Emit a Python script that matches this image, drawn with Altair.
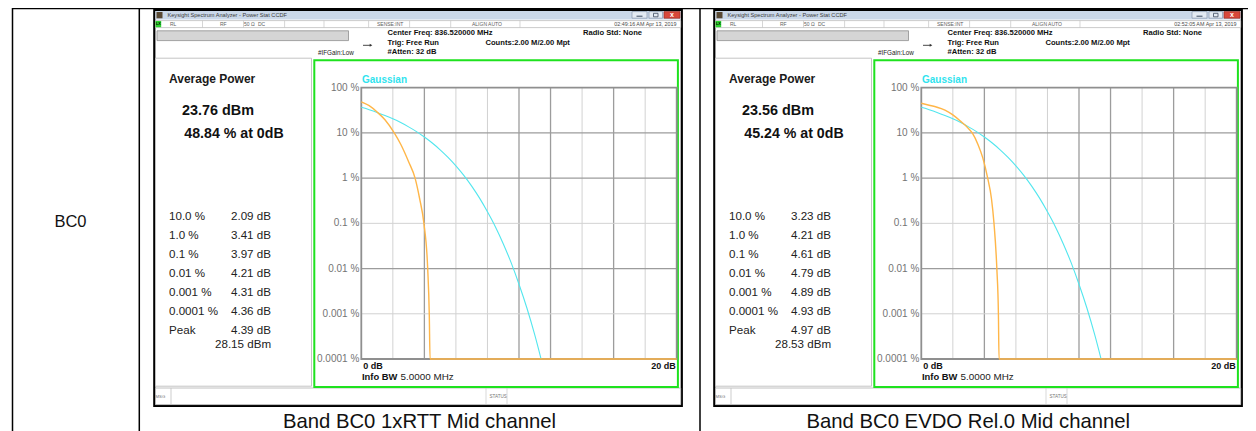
import altair as alt
import pandas as pd

# ---------------- data ----------------
row_label = "BC0"
captions = ["Band BC0 1xRTT Mid channel", "Band BC0 EVDO Rel.0 Mid channel"]
timestamps = ["02:49:16 AM Apr 13, 2019", "02:52:05 AM Apr 13, 2019"]
avg_power = ["23.76 dBm", "23.56 dBm"]
pct_at_0db = ["48.84 % at 0dB", "45.24 % at 0dB"]
stat_levels = ["10.0 %", "1.0 %", "0.1 %", "0.01 %", "0.001 %", "0.0001 %", "Peak"]
stat_values_rtt = ["2.09 dB", "3.41 dB", "3.97 dB", "4.21 dB", "4.31 dB", "4.36 dB", "4.39 dB"]
stat_values_evdo = ["3.23 dB", "4.21 dB", "4.61 dB", "4.79 dB", "4.89 dB", "4.93 dB", "4.97 dB"]
peak_dbm = ["28.15 dBm", "28.53 dBm"]
window_title = "Keysight Spectrum Analyzer - Power Stat CCDF"
header_lines = ["Center Freq: 836.520000 MHz", "Trig: Free Run", "#Atten: 32 dB"]
counts_text = "Counts:2.00 M/2.00 Mpt"
radio_std = "Radio Std: None"
ifgain = "#IFGain:Low"
status_items = ["RL", "RF", "50 \u03a9", "DC", "SENSE:INT", "ALIGN AUTO"]

grid_db = [2, 4, 6, 8, 10, 12, 14, 16, 18]
grid_db_strong = [4, 10, 12, 16]
y_tick_pct = [100, 10, 1, 0.1, 0.01, 0.001, 0.0001]
y_tick_labels = ["100 %", "10 %", "1 %", "0.1 %", "0.01 %", "0.001 %", "0.0001 %"]
grid_pct_strong = [10, 1, 0.01]

gauss_db = [0, 0.5, 1, 1.5, 2, 2.5, 3, 3.5, 4, 4.5, 5, 5.5, 6, 6.5, 7, 7.5, 8, 8.5, 9, 9.5, 10, 10.5, 11, 11.4]
gauss_pct = [36.8, 32.6, 28.4, 24.3, 20.5, 16.9, 13.6, 10.7, 8.1, 5.97, 4.23, 2.88, 1.87, 1.15,
             0.666, 0.361, 0.18, 0.0842, 0.0355, 0.0135, 0.0045, 0.00134, 0.00034, 0.0001]

rtt_db = [0, 0.5, 1.0, 1.5, 2.09, 2.5, 3.0, 3.41, 3.7, 3.97, 4.21, 4.31, 4.36, 4.39, 20]
rtt_pct = [48.84, 40, 29, 19.5, 10, 5.6, 2.3, 1.0, 0.35, 0.1, 0.01, 0.001, 0.0001, 0.0001, 0.0001]

evdo_db = [0, 0.5, 1.0, 1.5, 2.0, 2.5, 2.9, 3.23, 3.6, 3.9, 4.21, 4.45, 4.61, 4.79, 4.89, 4.93, 4.97, 20]
evdo_pct = [45.24, 41, 37, 32, 25, 18, 13.5, 10, 5.5, 2.8, 1.0, 0.35, 0.1, 0.01, 0.001, 0.0001, 0.0001, 0.0001]

# ---------------- layout helpers ----------------
FONT = "Liberation Sans"
ONE = pd.DataFrame({"k": [0]})
W, H = 1240, 423


def X(v):
    return v - 8


def Y(v):
    return v - 8


layers = []


def rect(x1, y1, x2, y2, fill="white", stroke=None, sw=1.0):
    kw = {}
    if fill is None:
        kw["fillOpacity"] = 0
        kw["fill"] = "white"
    else:
        kw["fill"] = fill
    if stroke is not None:
        kw["stroke"] = stroke
        kw["strokeWidth"] = sw
    layers.append(alt.Chart(ONE).mark_rect(**kw).encode(
        x=alt.value(X(x1)), x2=alt.value(X(x2)), y=alt.value(Y(y1)), y2=alt.value(Y(y2))))


def hline(x1, x2, y, color="black", sw=1.0):
    layers.append(alt.Chart(ONE).mark_rule(color=color, strokeWidth=sw).encode(
        x=alt.value(X(x1)), x2=alt.value(X(x2)), y=alt.value(Y(y))))


def vline(x, y1, y2, color="black", sw=1.0):
    layers.append(alt.Chart(ONE).mark_rule(color=color, strokeWidth=sw).encode(
        x=alt.value(X(x)), y=alt.value(Y(y1)), y2=alt.value(Y(y2))))


def text(s, x, y, size, weight="normal", color="#000000", align="left"):
    layers.append(alt.Chart(ONE).mark_text(
        text=s, font=FONT, fontSize=size, fontWeight=weight, color=color,
        align=align, baseline="middle").encode(x=alt.value(X(x)), y=alt.value(Y(y))))


# ---------------- table ----------------
hline(12, 1256, 8.6, "black", 1.5)
for vx in (12.5, 139.3, 700):
    vline(vx, 8, 431, "black", 1.5)
text(row_label, 70.5, 222, 16.5, color="#111111", align="center")

# ---------------- panels ----------------
panels = [
    (0, rtt_db, rtt_pct, stat_values_rtt),
    (560, evdo_db, evdo_pct, stat_values_evdo),
]

for i, (dx, c_db, c_pct, svals) in enumerate(panels):
    # window
    rect(154.3 + dx, 9.8, 681.8 + dx, 405.8, "white", "black", 2.2)
    rect(155.5 + dx, 10.9, 680.7 + dx, 19.6, "#cad8e9")
    rect(156.5 + dx, 12, 162.5 + dx, 18.3, "#5a4a34")
    text(window_title, 167.5 + dx, 15.2, 5.6, color="#3a3a3a")
    rect(632 + dx, 11.6, 647 + dx, 18.2, "#e3eaf3", "#8797ad", 0.7)
    hline(636.5 + dx, 642.5 + dx, 16.2, "#3c4a60", 1.0)
    rect(649 + dx, 11.6, 662.5 + dx, 18.2, "#e3eaf3", "#8797ad", 0.7)
    rect(653.5 + dx, 13.3, 658 + dx, 16.8, None, "#3c4a60", 0.8)
    rect(664 + dx, 11.6, 680 + dx, 18.2, "#d8473a", "#9e2d22", 0.7)
    text("x", 672 + dx, 14.6, 7, "bold", "#ffffff", "center")

    # status row
    rect(155.5 + dx, 20.6, 680.7 + dx, 27.6, "white", "#b4b4b4", 0.7)
    for sx_ in (202.5, 243.5, 284.6, 324, 368.6, 409.6, 450.7, 520):
        vline(sx_ + dx, 20.6, 27.6, "#c4c4c4", 0.7)
    rect(155.5 + dx, 21, 161.2 + dx, 27.2, "#2fd42f")
    text("LX", 158.3 + dx, 24.2, 3.8, "bold", "#000000", "center")
    for s, sx_ in zip(status_items, (170, 220, 244, 258, 377, 472)):
        text(s, sx_ + dx, 24.2, 5.0, color="#5e5e5e")
    text(timestamps[i], 676.5 + dx, 24.2, 5.4, color="#4a4a4a", align="right")

    # header area
    rect(157 + dx, 30.8, 348.5 + dx, 40.6, "#d5d5d5", "#8e8e8e", 0.8)
    for k, s in enumerate(header_lines):
        text(s, 387.5 + dx, 33.4 + 9.2 * k, 7.6, "bold", "#111111")
    text(counts_text, 485.5 + dx, 42.6, 7.6, "bold", "#111111")
    text(radio_std, 583 + dx, 33.4, 7.6, "bold", "#111111")
    text(ifgain, 318 + dx, 53, 6.3, color="#222222")
    hline(363 + dx, 370 + dx, 45.3, "#333333", 0.9)
    layers.append(alt.Chart(ONE).mark_point(shape="triangle-right", filled=True, color="#333333",
                                            size=9, opacity=1).encode(
        x=alt.value(X(371 + dx)), y=alt.value(Y(45.3))))

    # left info panel
    rect(155.5 + dx, 58.2, 311.5 + dx, 386.2, "white", "#bdbdbd", 0.9)
    text("Average Power", 169 + dx, 79, 12, "bold", "#1a1a1a")
    text(avg_power[i], 182 + dx, 110.7, 14.4, "bold", "#111111")
    text(pct_at_0db[i], 184.3 + dx, 134, 14.2, "bold", "#111111")
    for k, (lv, vv) in enumerate(zip(stat_levels, svals)):
        yy = 217.3 + 18.9 * k
        text(lv, 169 + dx, yy, 11.6, color="#222222")
        text(vv, 231 + dx, yy, 11.6, color="#222222")
    text(peak_dbm[i], 215 + dx, 345.2, 11.6, color="#222222")

    # bottom status bar
    rect(155.5 + dx, 388, 680.7 + dx, 404.6, "white", "#b0b0b0", 0.8)
    text("MSG", 155.5 + dx, 396.5, 4.3, color="#777777")
    vline(171 + dx, 388, 404.6, "#c0c0c0", 0.8)
    text("STATUS", 489.5 + dx, 396.5, 4.6, color="#777777")
    vline(486 + dx, 388, 404.6, "#c8c8c8", 0.7)
    vline(507 + dx, 388, 404.6, "#c8c8c8", 0.7)

    # green plot box
    rect(314.3 + dx, 60.2, 677.9 + dx, 386.9, None, "#1ee21e", 2.0)

    # CCDF plot via scales
    x0, x1 = 361.3 + dx, 676.7 + dx
    y_top, y_bot = 87.7, 359.0
    sx = alt.Scale(domain=[0, 20], range=[X(x0), X(x1)], nice=False, zero=False)
    sy = alt.Scale(type="log", domain=[0.0001, 100], range=[Y(y_bot), Y(y_top)], nice=False)

    light_db = [d for d in grid_db if d not in grid_db_strong]
    for vals, col, w in ((light_db, "#d2d2d2", 1.0), (grid_db_strong, "#9c9c9c", 1.3)):
        layers.append(alt.Chart(pd.DataFrame({"db": vals})).mark_rule(color=col, strokeWidth=w).encode(
            x=alt.X("db:Q", scale=sx, axis=None), y=alt.value(Y(y_top)), y2=alt.value(Y(y_bot))))
    inner = [p for p in y_tick_pct if p not in (100, 0.0001)]
    light_pct = [p for p in inner if p not in grid_pct_strong]
    for vals, col, w in ((light_pct, "#d2d2d2", 1.0), (grid_pct_strong, "#9c9c9c", 1.3)):
        layers.append(alt.Chart(pd.DataFrame({"pct": vals})).mark_rule(color=col, strokeWidth=w).encode(
            y=alt.Y("pct:Q", scale=sy, axis=None), x=alt.value(X(x0)), x2=alt.value(X(x1))))
    rect(x0, y_top, x1, y_bot, None, "#8f8f8f", 1.8)

    layers.append(alt.Chart(pd.DataFrame({"pct": y_tick_pct, "lab": y_tick_labels})).mark_text(
        font=FONT, fontSize=10, color="#747474", align="right", baseline="middle").encode(
        y=alt.Y("pct:Q", scale=sy, axis=None), x=alt.value(X(359.3 + dx)), text="lab:N"))

    text("Gaussian", 362 + dx, 80.2, 10, "bold", "#2fe3ee")
    text("0 dB", 363.3 + dx, 366.2, 9, "bold", "#111111")
    text("20 dB", 675.8 + dx, 366.2, 9, "bold", "#111111", "right")
    text("Info BW", 362 + dx, 377.3, 9.4, "bold", "#111111")
    text("5.0000 MHz", 400.5 + dx, 377.3, 9.9, color="#222222")

    layers.append(alt.Chart(pd.DataFrame({"db": gauss_db, "pct": gauss_pct})).mark_line(
        color="#52e6ee", strokeWidth=1.1, interpolate="monotone").encode(
        x=alt.X("db:Q", scale=sx, axis=None), y=alt.Y("pct:Q", scale=sy, axis=None)))
    layers.append(alt.Chart(pd.DataFrame({"db": c_db, "pct": c_pct})).mark_line(
        color="#ffb648", strokeWidth=1.4, interpolate="monotone").encode(
        x=alt.X("db:Q", scale=sx, axis=None), y=alt.Y("pct:Q", scale=sy, axis=None)))

    # caption
    text(captions[i], 419.5 + dx * 0.98, 421.5, 20.3, color="#111111", align="center")

chart = alt.layer(*layers).resolve_scale(x="independent", y="independent").properties(
    width=W, height=H, padding=0, autosize=alt.AutoSizeParams(type="none"),
    background="white").configure_view(stroke=None)

chart.save("out.html", embed_options={"renderer": "svg", "actions": False})
